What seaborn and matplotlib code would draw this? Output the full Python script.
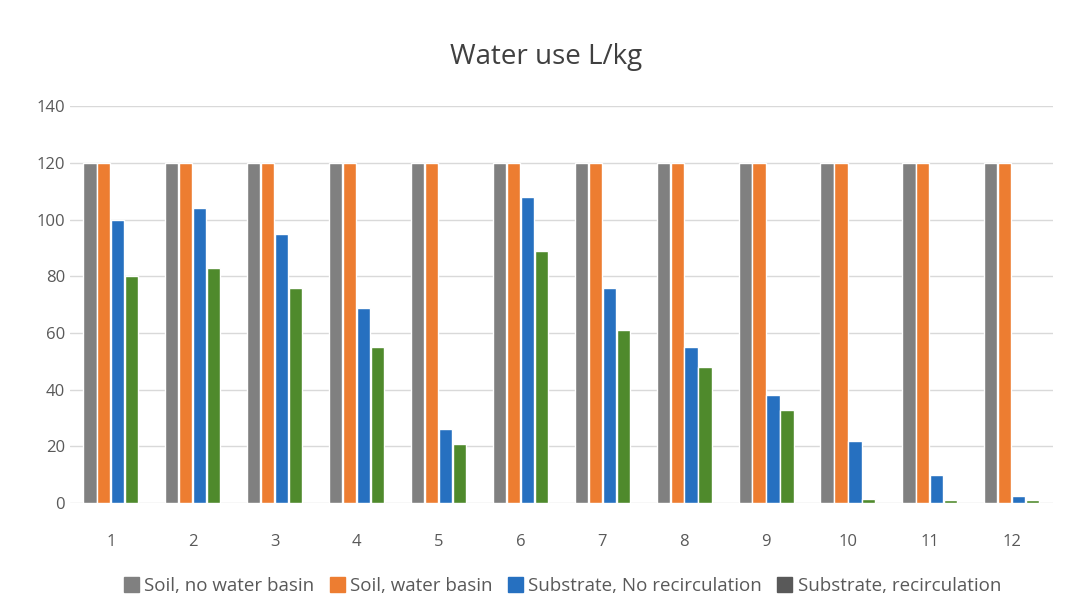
import pandas as pd
import seaborn as sns
import matplotlib.pyplot as plt
from matplotlib.patches import Patch

groups = [str(i) for i in range(1, 13)]
series = ['Soil, no water basin', 'Soil, water basin',
          'Substrate, No recirculation', 'Substrate, recirculation']
soil_no_basin = [120] * 12
soil_basin = [120] * 12
substrate_no_recirc = [100, 104, 95, 69, 26, 108, 76, 55, 38, 22, 10, 2.5]
substrate_recirc = [80, 83, 76, 55, 21, 89, 61, 48, 33, 1.5, 1, 1]

rows = []
for name, vals in zip(series, [soil_no_basin, soil_basin, substrate_no_recirc, substrate_recirc]):
    for g, v in zip(groups, vals):
        rows.append({'group': g, 'series': name, 'value': v})
df = pd.DataFrame(rows)

colors = ['#808080', '#ed7d31', '#2670c0', '#4f8a2c']

sns.set_style('white')
plt.rcParams['font.family'] = ['Open Sans', 'DejaVu Sans']
fig = plt.figure(figsize=(10.92, 6.12), dpi=100)
ax = fig.add_axes([0.064, 0.178, 0.9, 0.648])
sns.barplot(data=df, x='group', y='value', hue='series', palette=colors,
            width=0.68, gap=0.05, ax=ax, legend=False, saturation=1)
ax.set_ylim(0, 140)
ax.set_yticks(range(0, 141, 20))
ax.yaxis.grid(True, color='#d9d9d9', lw=1)
ax.set_axisbelow(True)
for s in ax.spines.values():
    s.set_visible(False)
ax.tick_params(axis='both', labelsize=12, colors='#595959', length=0)
ax.tick_params(axis='x', pad=22)
ax.set_xlabel('')
ax.set_ylabel('')
ax.set_xlim(-0.5, 11.5)
fig.suptitle('Water use L/kg', y=0.93, fontsize=20, color='#404040')

handles = [Patch(color=c) for c in colors[:3]] + [Patch(color='#595959')]
fig.legend(handles, series, loc='lower center', ncol=4, frameon=False,
           fontsize=13.5, handlelength=0.8, handleheight=0.8, handletextpad=0.3,
           columnspacing=0.8, bbox_to_anchor=(0.515, 0.0), labelcolor='#595959')
fig.savefig('out.png', dpi=100)
